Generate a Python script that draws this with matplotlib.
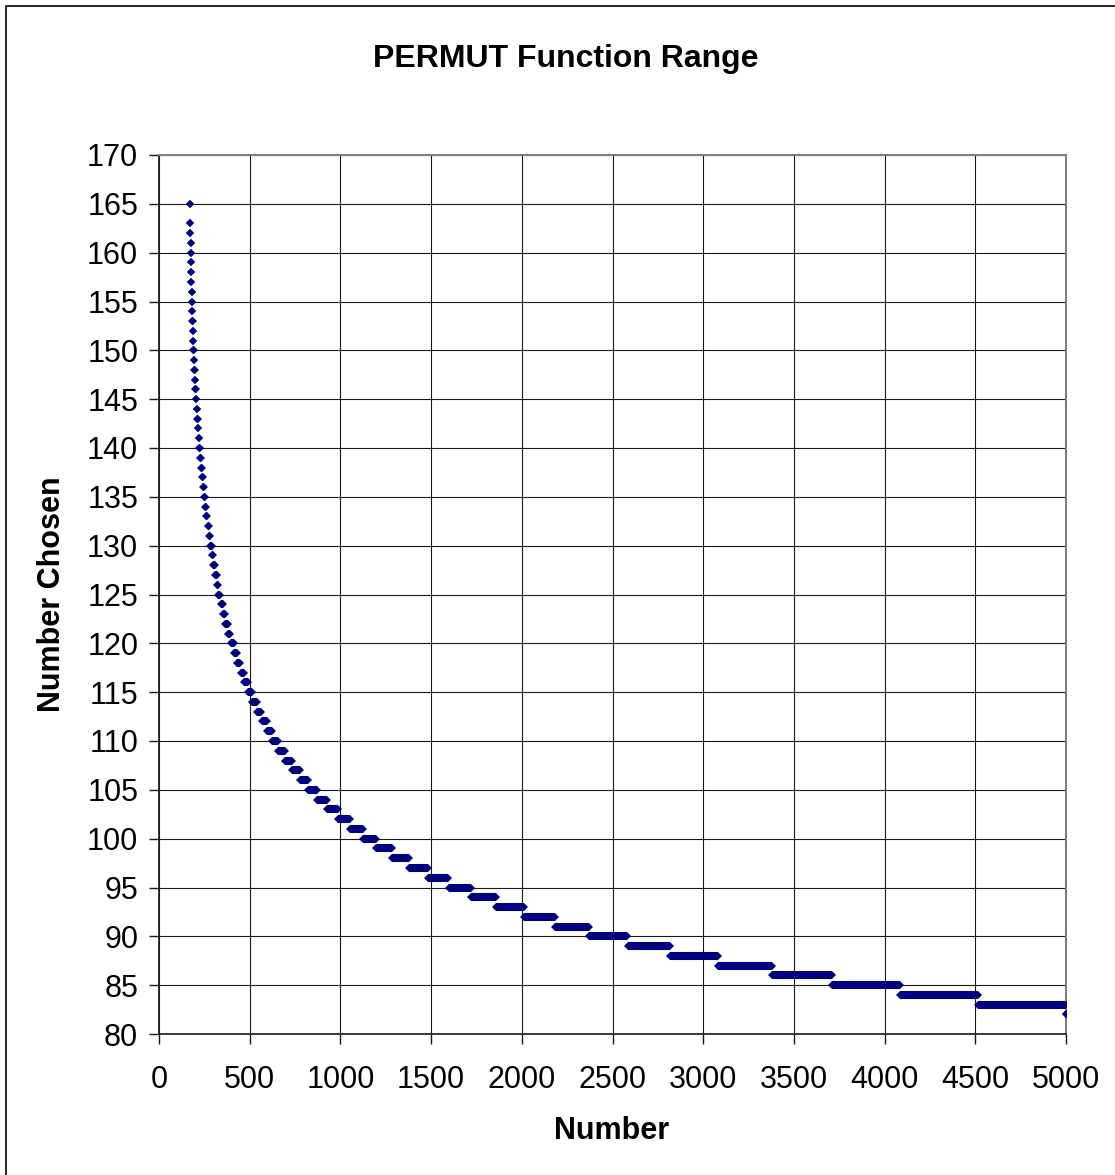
import numpy as np
import matplotlib
matplotlib.use('Agg')
import matplotlib.pyplot as plt
from matplotlib.patches import Rectangle

plt.rcParams['font.family'] = ['Liberation Sans', 'DejaVu Sans']

# each level of "Number Chosen" and the first Number where it shows up
levels = [165, 163, 162, 161, 160, 159, 158, 157, 156, 155, 154, 153, 152, 151, 150,
          149, 148, 147, 146, 145, 144, 143, 142, 141, 140, 139, 138, 137, 136, 135,
          134, 133, 132, 131, 130, 129, 128, 127, 126, 125, 124, 123, 122, 121, 120,
          119, 118, 117, 116, 115, 114, 113, 112, 111, 110, 109, 108, 107, 106, 105,
          104, 103, 102, 101, 100, 99, 98, 97, 96, 95, 94, 93, 92, 91, 90,
          89, 88, 87, 86, 85, 84, 83, 82]
level_start = [171, 172, 173, 174, 175, 176, 177, 178, 180, 181, 183, 184, 186, 188, 190,
               192, 195, 198, 201, 204, 207, 211, 214, 218, 222, 227, 231, 236, 242, 248,
               254, 261, 268, 275, 283, 291, 299, 308, 318, 328, 340, 352, 366, 380, 395,
               412, 430, 450, 469, 490, 514, 540, 566, 594, 625, 658, 694, 733, 777, 822,
               873, 928, 988, 1052, 1124, 1199, 1286, 1379, 1482, 1596, 1719, 1859, 2013, 2183, 2372,
               2583, 2818, 3083, 3379, 3712, 4086, 4514, 5000]
level_end = [s - 1 for s in level_start[1:]] + [5000]

x_ticks = list(range(0, 5001, 500))
y_ticks = list(range(80, 171, 5))

W, H = 1115, 1175
fig = plt.figure(figsize=(W / 100, H / 100), dpi=100)
ax = fig.add_axes([159 / W, 1 - 1034 / H, 907 / W, 879 / H])

xs, ys = [], []
for y, s, e in zip(levels, level_start, level_end):
    xs += [s, e, np.nan]
    ys += [y, y, np.nan]
# diamond height (ms * sqrt 2) kept equal to the bar width so the ends come out pointed
ax.plot(xs, ys, color='#000080', lw=5.8, solid_capstyle='butt',
        marker='D', ms=4.1, mew=0, zorder=3)

ax.set_xlim(0, 5000)
ax.set_ylim(80, 170)
ax.set_xticks(x_ticks)
ax.set_yticks(y_ticks)
ax.grid(True, color='#1a1a1a', lw=0.8)
ax.set_axisbelow(True)
ax.tick_params(axis='both', labelsize=22, direction='out', length=7, width=1, color='#1a1a1a')
ax.tick_params(axis='y', pad=8)
ax.tick_params(axis='x', pad=15)
for side in ['top', 'right']:
    ax.spines[side].set_color('#808080')
    ax.spines[side].set_linewidth(1.5)
for side in ['left', 'bottom']:
    ax.spines[side].set_color('#1a1a1a')
    ax.spines[side].set_linewidth(1.2)

fig.text(566 / W, 1 - 59 / H, 'PERMUT Function Range', fontsize=23, fontweight='bold',
         ha='center', va='center')
fig.text(612 / W, 1 - 1131 / H, 'Number', fontsize=22, fontweight='bold',
         ha='center', va='center')
fig.text(52 / W, 1 - 594 / H, 'Number Chosen', fontsize=22, fontweight='bold',
         ha='center', va='center', rotation=90)

# outer chart frame (right and bottom edges run off the picture)
fig.patches.append(Rectangle((6 / W, -0.05), 1.2, 1 - 6 / H + 0.05, transform=fig.transFigure,
                             fill=False, ec='black', lw=1.2))

fig.savefig('out.png', dpi=100)
